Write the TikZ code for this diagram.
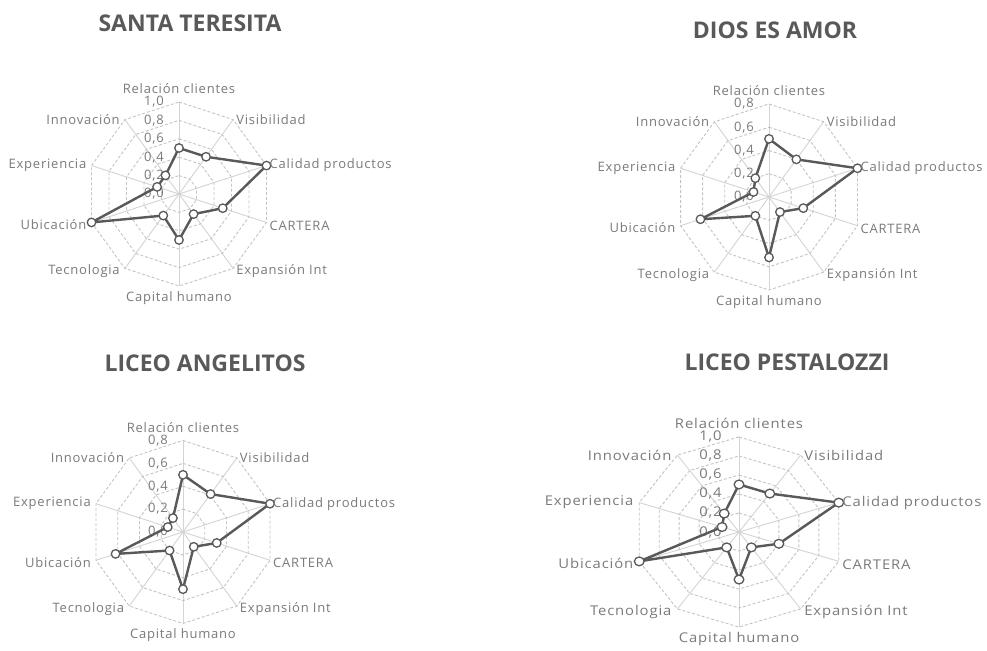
\documentclass[tikz,border=0pt]{standalone}
\usepackage{fontspec}
\setmainfont{Open Sans}
\newfontfamily\lblfont{Open Sans}[LetterSpace=6]
\definecolor{txt}{HTML}{7A7A7A}
\definecolor{ttl}{HTML}{595959}
\definecolor{gridc}{HTML}{C4C4C4}
\definecolor{spokec}{HTML}{D4D4D4}
\definecolor{datc}{HTML}{595959}
\tikzset{
  gridring/.style={draw=gridc, line width=0.9pt, dash pattern=on 3pt off 2pt},
  spokeline/.style={draw=spokec, line width=0.9pt},
  dataline/.style={draw=datc, line width=2.4pt, line join=round},
  marker/.style={circle, draw=datc, fill=white, line width=1.3pt, inner sep=0pt, minimum size=8.5pt},
  axlabel/.style={text=txt, font=\lblfont\fontsize{13}{15}\selectfont, inner sep=2pt},
  ticklabel/.style={text=txt, font=\lblfont\fontsize{13}{15}\selectfont, anchor=east, inner sep=0pt},
  charttitle/.style={text=ttl, font=\fontsize{23}{27}\selectfont\bfseries},
}
% #1 id, #2 cx, #3 cy, #4 radius, #5 max, #6 values, #7 tick labels, #8 scope options
\newcommand\radarchart[8]{%
\begin{scope}[shift={(#2,650-#3)}, #8, transform shape]
  \coordinate (#1o) at (0,0);
  \foreach \a [count=\i from 0] in {90,54,18,-18,-54,-90,-126,-162,-198,-234} {
    \coordinate (#1v\i) at (\a:#4);
    \draw[spokeline] (#1o) -- (#1v\i);
  }
  \foreach \t [count=\k from 0] in {#7} {
    \pgfmathsetmacro\rr{#4*\t/#5}
    \ifnum\k>0
      \draw[gridring] plot[samples at={90,54,...,-234}] (\x:\rr) -- cycle;
    \fi
  }
  \foreach \t [count=\k from 0] in {#7} {
    \pgfmathsetmacro\rr{#4*\t/#5}
    \node[ticklabel] (#1t\k) at (-15,\rr) {\StrComma{\t}};
  }
  \foreach \v [count=\i from 0] in {#6} {
    \coordinate (#1d\i) at ({90-36*\i}:{#4*\v/#5});
  }
  \draw[dataline] (#1d0) \foreach \i in {1,...,9} { -- (#1d\i) } -- cycle;
  \foreach \i in {0,...,9} { \node[marker] (#1m\i) at (#1d\i) {}; }
  \node[axlabel, anchor=south, inner ysep=0pt] (#1l0) at ([yshift=8pt]#1v0) {Relación clientes};
  \node[axlabel, anchor=west] (#1l1) at ([xshift=1pt]#1v1) {Visibilidad};
  \node[axlabel, anchor=west] (#1l2) at ([xshift=1pt]#1v2) {Calidad productos};
  \node[axlabel, anchor=west] (#1l3) at ([xshift=1pt,yshift=-3pt]#1v3) {CARTERA};
  \node[axlabel, anchor=west] (#1l4) at ([xshift=1pt,yshift=-3pt]#1v4) {Expansión Int};
  \node[axlabel, anchor=north] (#1l5) at ([yshift=-3pt]#1v5) {Capital humano};
  \node[axlabel, anchor=east] (#1l6) at ([xshift=-3pt,yshift=-3pt]#1v6) {Tecnologia};
  \node[axlabel, anchor=east] (#1l7) at ([xshift=-3pt,yshift=-2pt]#1v7) {Ubicación};
  \node[axlabel, anchor=east] (#1l8) at ([xshift=-3pt]#1v8) {Experiencia};
  \node[axlabel, anchor=east] (#1l9) at ([xshift=-3pt]#1v9) {Innovación};
\end{scope}}
\def\StrComma#1{\expandafter\splitdot#1\relax}
\def\splitdot#1.#2\relax{#1,#2}
\begin{document}
\begin{tikzpicture}[x=1pt,y=1pt]
  \useasboundingbox[fill=white] (0,0) rectangle (987,650);
  \node[charttitle] (t1) at (190,650-23) {SANTA TERESITA};
  \node[charttitle] (t2) at (775,650-30) {DIOS ES AMOR};
  \node[charttitle] (t3) at (205,650-363) {LICEO ANGELITOS};
  \node[charttitle] (t4) at (787,650-362) {LICEO PESTALOZZI};
  \radarchart{a}{179}{194}{92}{1.0}{0.5,0.5,1.0,0.5,0.27,0.5,0.29,1.0,0.25,0.25}{0.0,0.2,0.4,0.6,0.8,1.0}{}
  \radarchart{b}{769}{197}{93}{0.8}{0.5,0.4,0.8,0.31,0.16,0.52,0.2,0.62,0.14,0.2}{0.0,0.2,0.4,0.6,0.8}{}
  \radarchart{c}{183}{532}{91.5}{0.8}{0.5,0.41,0.8,0.31,0.16,0.5,0.2,0.62,0.14,0.15}{0.0,0.2,0.4,0.6,0.8}{}
  \radarchart{d}{739}{532}{92}{1.0}{0.5,0.5,1.0,0.4,0.2,0.5,0.2,1.0,0.17,0.24}{0.0,0.2,0.4,0.6,0.8,1.0}{xscale=1.14,yscale=1.033}
\end{tikzpicture}
\end{document}
